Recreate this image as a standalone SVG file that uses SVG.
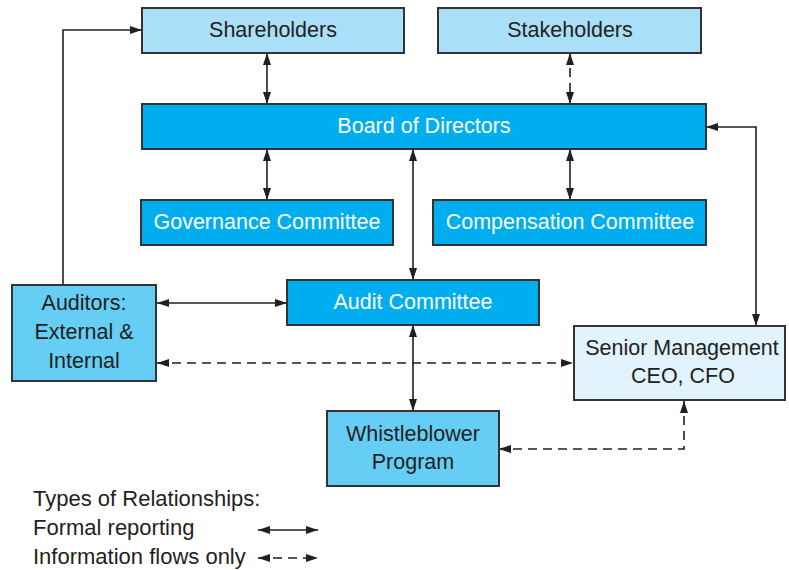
<svg xmlns="http://www.w3.org/2000/svg" width="789" height="570" viewBox="0 0 789 570">
<defs>
<marker id="ah" viewBox="0 0 12 8" refX="12" refY="4" markerWidth="12" markerHeight="8" markerUnits="userSpaceOnUse" orient="auto-start-reverse">
<path d="M0,0 L12,4 L0,8 Z" fill="#231f20"/>
</marker>
<style>
.box{stroke:#333;stroke-width:2}
.l1{fill:#aadff8}
.dk{fill:#00aeef}
.md{fill:#66cdf5}
.lt{fill:#e1f3fc}
text{font-family:"Liberation Sans",Arial,sans-serif;font-size:21.5px;text-anchor:middle;dominant-baseline:central;fill:#231f20}
.w{fill:#fff}
.c{fill:none;stroke:#231f20;stroke-width:1.6}
.d{stroke-dasharray:9,6}
.lg{text-anchor:start;font-size:22px}
</style>
</defs>
<g id="connectors">
<path class="c" d="M267,53 V104" marker-start="url(#ah)" marker-end="url(#ah)"/>
<path class="c d" d="M570,53 V104" marker-start="url(#ah)" marker-end="url(#ah)"/>
<path class="c" d="M267,149 V200" marker-start="url(#ah)" marker-end="url(#ah)"/>
<path class="c" d="M570,149 V200" marker-start="url(#ah)" marker-end="url(#ah)"/>
<path class="c" d="M413,149 V280" marker-start="url(#ah)" marker-end="url(#ah)"/>
<path class="c" d="M63,285 V30 H142" marker-end="url(#ah)"/>
<path class="c" d="M706,127 H756 V326" marker-start="url(#ah)" marker-end="url(#ah)"/>
<path class="c" d="M157,303 H287" marker-start="url(#ah)" marker-end="url(#ah)"/>
<path class="c d" d="M157,363 H573" marker-start="url(#ah)" marker-end="url(#ah)"/>
<path class="c" d="M413,325 V411" marker-start="url(#ah)" marker-end="url(#ah)"/>
<path class="c d" d="M684,401 V449 H499" marker-start="url(#ah)" marker-end="url(#ah)"/>
<path class="c" d="M258,530 H318" marker-start="url(#ah)" marker-end="url(#ah)"/>
<path class="c d" d="M258,558 H318" stroke-dasharray="6,4" marker-start="url(#ah)" marker-end="url(#ah)"/>
</g>
<g id="shareholders"><rect class="box l1" x="142" y="8" width="262" height="45"/><text x="273" y="30">Shareholders</text></g>
<g id="stakeholders"><rect class="box l1" x="438" y="8" width="263" height="45"/><text x="570" y="30">Stakeholders</text></g>
<g id="board"><rect class="box dk" x="142" y="104" width="564" height="45"/><text class="w" x="424" y="126">Board of Directors</text></g>
<g id="governance"><rect class="box dk" x="141" y="200" width="252" height="45"/><text class="w" x="267" y="222">Governance Committee</text></g>
<g id="compensation"><rect class="box dk" x="433" y="200" width="273" height="45"/><text class="w" x="570" y="222">Compensation Committee</text></g>
<g id="audit"><rect class="box dk" x="287" y="280" width="252" height="45"/><text class="w" x="413" y="302">Audit Committee</text></g>
<g id="auditors"><rect class="box md" x="12" y="285" width="144" height="96"/><text x="84" y="303">Auditors:</text><text x="84" y="332">External &amp;</text><text x="84" y="361">Internal</text></g>
<g id="senior"><rect class="box lt" x="574" y="326" width="211" height="74"/><text x="682" y="348">Senior Management</text><text x="683" y="376">CEO, CFO</text></g>
<g id="whistleblower"><rect class="box md" x="327" y="411" width="172" height="75"/><text x="413" y="434">Whistleblower</text><text x="413" y="462">Program</text></g>
<g id="legend"><text class="lg" x="33" y="498">Types of Relationships:</text><text class="lg" x="33" y="527">Formal reporting</text><text class="lg" x="33" y="556">Information flows only</text></g>
</svg>
